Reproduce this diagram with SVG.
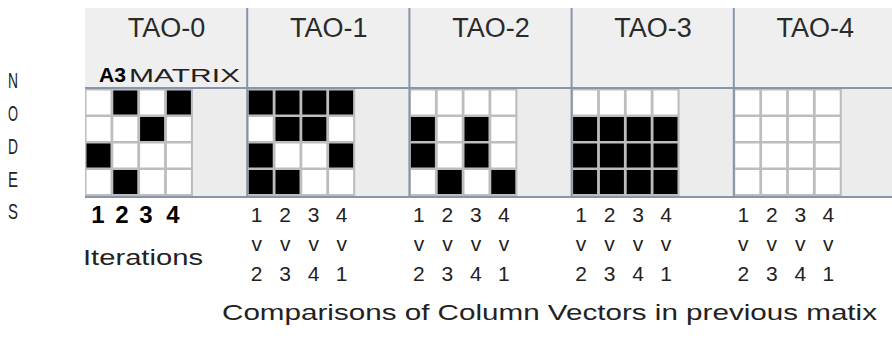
<svg xmlns="http://www.w3.org/2000/svg" width="892" height="339" viewBox="0 0 892 339">
  <style>
    .hdr { fill: #efefef; }
    .pane { fill: #ececec; }
    .rule { stroke: #8795aa; stroke-width: 2; fill: none; }
    .grid { fill: #bdbdbd; }
    .b { fill: #000000; }
    .w { fill: #ffffff; }
    .t { font-family: "Liberation Sans", Arial, sans-serif; fill: #222222; }
    .title { font-size: 27px; text-anchor: middle; fill: #2a2a2a; }
    .dig { font-size: 21px; text-anchor: middle; }
    .bdig { font-size: 24px; font-weight: bold; text-anchor: middle; fill: #000; }
    .vee { font-size: 21px; text-anchor: middle; }
    .side { font-size: 22px; text-anchor: middle; }
    .note { font-size: 22px; }
  </style>

  <!-- background bands -->
  <rect class="hdr" x="85" y="8" width="807" height="80"/>
  <rect class="pane" x="85" y="89" width="807" height="107"/>

  <!-- vertical "NODES" label -->
  <g id="nodes-label" class="t side">
    <text x="13" y="88" textLength="10" lengthAdjust="spacingAndGlyphs">N</text>
    <text x="13" y="121" textLength="10" lengthAdjust="spacingAndGlyphs">O</text>
    <text x="13" y="154" textLength="10" lengthAdjust="spacingAndGlyphs">D</text>
    <text x="13" y="187" textLength="10" lengthAdjust="spacingAndGlyphs">E</text>
    <text x="13" y="219" textLength="10" lengthAdjust="spacingAndGlyphs">S</text>
  </g>

  <!-- TAO-0 : A3 matrix -->
  <g id="tao-0">
    <text class="t title" x="166.5" y="37">TAO-0</text>
    <text class="t" x="99" y="82" style="font-size:21px;font-weight:bold;fill:#000" textLength="27" lengthAdjust="spacingAndGlyphs">A3</text>
    <text class="t" x="129" y="82" style="font-size:18px" textLength="111" lengthAdjust="spacingAndGlyphs">MATRIX</text>
    <rect class="grid" x="85" y="89" width="108" height="107"/>
    <rect class="w" x="86.5" y="90.5" width="24" height="24"/>
    <rect class="b" x="113.3" y="90.5" width="24" height="24"/>
    <rect class="w" x="140.1" y="90.5" width="24" height="24"/>
    <rect class="b" x="166.9" y="90.5" width="24" height="24"/>
    <rect class="w" x="86.5" y="117" width="24" height="24"/>
    <rect class="w" x="113.3" y="117" width="24" height="24"/>
    <rect class="b" x="140.1" y="117" width="24" height="24"/>
    <rect class="w" x="166.9" y="117" width="24" height="24"/>
    <rect class="b" x="86.5" y="143.5" width="24" height="24"/>
    <rect class="w" x="113.3" y="143.5" width="24" height="24"/>
    <rect class="w" x="140.1" y="143.5" width="24" height="24"/>
    <rect class="w" x="166.9" y="143.5" width="24" height="24"/>
    <rect class="w" x="86.5" y="170" width="24" height="24"/>
    <rect class="b" x="113.3" y="170" width="24" height="24"/>
    <rect class="w" x="140.1" y="170" width="24" height="24"/>
    <rect class="w" x="166.9" y="170" width="24" height="24"/>
    <text class="t bdig" y="223"><tspan x="98">1</tspan><tspan x="122">2</tspan><tspan x="146">3</tspan><tspan x="173">4</tspan></text>
    <text class="t" x="83" y="265" style="font-size:22px" textLength="120" lengthAdjust="spacingAndGlyphs">Iterations</text>
  </g>

  <!-- TAO-1 -->
  <g id="tao-1">
    <text class="t title" x="328.7" y="37">TAO-1</text>
    <rect class="grid" x="247.2" y="89" width="108" height="107"/>
    <rect class="b" x="248.7" y="90.5" width="24" height="24"/>
    <rect class="b" x="275.5" y="90.5" width="24" height="24"/>
    <rect class="b" x="302.3" y="90.5" width="24" height="24"/>
    <rect class="b" x="329.1" y="90.5" width="24" height="24"/>
    <rect class="w" x="248.7" y="117" width="24" height="24"/>
    <rect class="b" x="275.5" y="117" width="24" height="24"/>
    <rect class="b" x="302.3" y="117" width="24" height="24"/>
    <rect class="w" x="329.1" y="117" width="24" height="24"/>
    <rect class="b" x="248.7" y="143.5" width="24" height="24"/>
    <rect class="w" x="275.5" y="143.5" width="24" height="24"/>
    <rect class="w" x="302.3" y="143.5" width="24" height="24"/>
    <rect class="b" x="329.1" y="143.5" width="24" height="24"/>
    <rect class="b" x="248.7" y="170" width="24" height="24"/>
    <rect class="b" x="275.5" y="170" width="24" height="24"/>
    <rect class="w" x="302.3" y="170" width="24" height="24"/>
    <rect class="w" x="329.1" y="170" width="24" height="24"/>
    <text class="t dig" y="222"><tspan x="256.7">1</tspan><tspan x="285.2">2</tspan><tspan x="313.7">3</tspan><tspan x="341.7">4</tspan></text>
    <text class="t vee" y="251"><tspan x="256.7">v</tspan><tspan x="285.2">v</tspan><tspan x="313.7">v</tspan><tspan x="341.7">v</tspan></text>
    <text class="t dig" y="281"><tspan x="256.7">2</tspan><tspan x="285.2">3</tspan><tspan x="313.7">4</tspan><tspan x="341.7">1</tspan></text>
  </g>

  <!-- TAO-2 -->
  <g id="tao-2">
    <text class="t title" x="490.9" y="37">TAO-2</text>
    <rect class="grid" x="409.4" y="89" width="108" height="107"/>
    <rect class="w" x="410.9" y="90.5" width="24" height="24"/>
    <rect class="w" x="437.7" y="90.5" width="24" height="24"/>
    <rect class="w" x="464.5" y="90.5" width="24" height="24"/>
    <rect class="w" x="491.3" y="90.5" width="24" height="24"/>
    <rect class="b" x="410.9" y="117" width="24" height="24"/>
    <rect class="w" x="437.7" y="117" width="24" height="24"/>
    <rect class="b" x="464.5" y="117" width="24" height="24"/>
    <rect class="w" x="491.3" y="117" width="24" height="24"/>
    <rect class="b" x="410.9" y="143.5" width="24" height="24"/>
    <rect class="w" x="437.7" y="143.5" width="24" height="24"/>
    <rect class="b" x="464.5" y="143.5" width="24" height="24"/>
    <rect class="w" x="491.3" y="143.5" width="24" height="24"/>
    <rect class="w" x="410.9" y="170" width="24" height="24"/>
    <rect class="b" x="437.7" y="170" width="24" height="24"/>
    <rect class="w" x="464.5" y="170" width="24" height="24"/>
    <rect class="b" x="491.3" y="170" width="24" height="24"/>
    <text class="t dig" y="222"><tspan x="418.9">1</tspan><tspan x="447.4">2</tspan><tspan x="475.9">3</tspan><tspan x="503.9">4</tspan></text>
    <text class="t vee" y="251"><tspan x="418.9">v</tspan><tspan x="447.4">v</tspan><tspan x="475.9">v</tspan><tspan x="503.9">v</tspan></text>
    <text class="t dig" y="281"><tspan x="418.9">2</tspan><tspan x="447.4">3</tspan><tspan x="475.9">4</tspan><tspan x="503.9">1</tspan></text>
  </g>

  <!-- TAO-3 -->
  <g id="tao-3">
    <text class="t title" x="653.1" y="37">TAO-3</text>
    <rect class="grid" x="571.6" y="89" width="108" height="107"/>
    <rect class="w" x="573.1" y="90.5" width="24" height="24"/>
    <rect class="w" x="599.9" y="90.5" width="24" height="24"/>
    <rect class="w" x="626.7" y="90.5" width="24" height="24"/>
    <rect class="w" x="653.5" y="90.5" width="24" height="24"/>
    <rect class="b" x="573.1" y="117" width="24" height="24"/>
    <rect class="b" x="599.9" y="117" width="24" height="24"/>
    <rect class="b" x="626.7" y="117" width="24" height="24"/>
    <rect class="b" x="653.5" y="117" width="24" height="24"/>
    <rect class="b" x="573.1" y="143.5" width="24" height="24"/>
    <rect class="b" x="599.9" y="143.5" width="24" height="24"/>
    <rect class="b" x="626.7" y="143.5" width="24" height="24"/>
    <rect class="b" x="653.5" y="143.5" width="24" height="24"/>
    <rect class="b" x="573.1" y="170" width="24" height="24"/>
    <rect class="b" x="599.9" y="170" width="24" height="24"/>
    <rect class="b" x="626.7" y="170" width="24" height="24"/>
    <rect class="b" x="653.5" y="170" width="24" height="24"/>
    <text class="t dig" y="222"><tspan x="581.1">1</tspan><tspan x="609.6">2</tspan><tspan x="638.1">3</tspan><tspan x="666.1">4</tspan></text>
    <text class="t vee" y="251"><tspan x="581.1">v</tspan><tspan x="609.6">v</tspan><tspan x="638.1">v</tspan><tspan x="666.1">v</tspan></text>
    <text class="t dig" y="281"><tspan x="581.1">2</tspan><tspan x="609.6">3</tspan><tspan x="638.1">4</tspan><tspan x="666.1">1</tspan></text>
  </g>

  <!-- TAO-4 -->
  <g id="tao-4">
    <text class="t title" x="815.3" y="37">TAO-4</text>
    <rect class="grid" x="733.8" y="89" width="108" height="107"/>
    <rect class="w" x="735.3" y="90.5" width="24" height="24"/>
    <rect class="w" x="762.1" y="90.5" width="24" height="24"/>
    <rect class="w" x="788.9" y="90.5" width="24" height="24"/>
    <rect class="w" x="815.7" y="90.5" width="24" height="24"/>
    <rect class="w" x="735.3" y="117" width="24" height="24"/>
    <rect class="w" x="762.1" y="117" width="24" height="24"/>
    <rect class="w" x="788.9" y="117" width="24" height="24"/>
    <rect class="w" x="815.7" y="117" width="24" height="24"/>
    <rect class="w" x="735.3" y="143.5" width="24" height="24"/>
    <rect class="w" x="762.1" y="143.5" width="24" height="24"/>
    <rect class="w" x="788.9" y="143.5" width="24" height="24"/>
    <rect class="w" x="815.7" y="143.5" width="24" height="24"/>
    <rect class="w" x="735.3" y="170" width="24" height="24"/>
    <rect class="w" x="762.1" y="170" width="24" height="24"/>
    <rect class="w" x="788.9" y="170" width="24" height="24"/>
    <rect class="w" x="815.7" y="170" width="24" height="24"/>
    <text class="t dig" y="222"><tspan x="743.3">1</tspan><tspan x="771.8">2</tspan><tspan x="800.3">3</tspan><tspan x="828.3">4</tspan></text>
    <text class="t vee" y="251"><tspan x="743.3">v</tspan><tspan x="771.8">v</tspan><tspan x="800.3">v</tspan><tspan x="828.3">v</tspan></text>
    <text class="t dig" y="281"><tspan x="743.3">2</tspan><tspan x="771.8">3</tspan><tspan x="800.3">4</tspan><tspan x="828.3">1</tspan></text>
  </g>

  <!-- frame rules: header underline, column separators, bottom line -->
  <g id="rules" class="rule">
    <line x1="85" y1="88" x2="892" y2="88"/>
    <line x1="85" y1="197" x2="892" y2="197"/>
    <line x1="247.2" y1="8" x2="247.2" y2="198"/>
    <line x1="409.4" y1="8" x2="409.4" y2="198"/>
    <line x1="571.6" y1="8" x2="571.6" y2="198"/>
    <line x1="733.8" y1="8" x2="733.8" y2="198"/>
  </g>

  <!-- caption -->
  <text class="t note" x="222" y="320" textLength="655" lengthAdjust="spacingAndGlyphs">Comparisons of Column Vectors in previous matix</text>
</svg>
